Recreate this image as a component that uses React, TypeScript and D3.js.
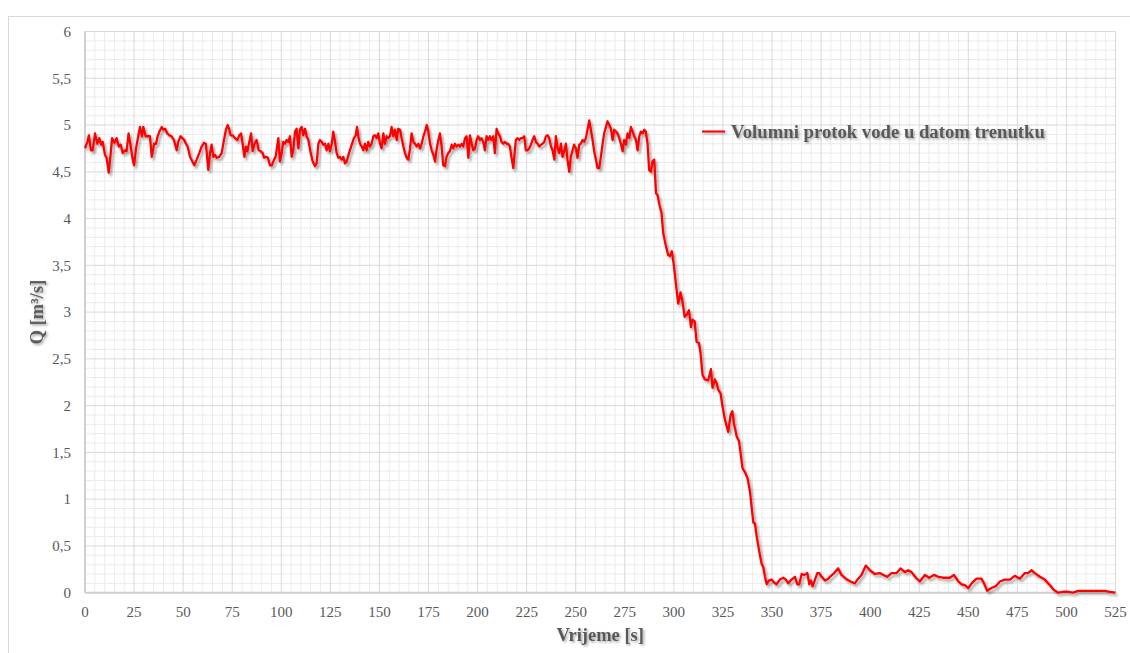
import React from 'react';
import * as d3 from 'd3';

const width = 1130;
const height = 653;
const margin = { top: 31.5, right: 14.5, bottom: 60.3, left: 85 };

const xMax = 525;
const yMax = 6;
const xMajorStep = 25;
const xMinorStep = 5;
const yMajorStep = 0.5;
const yMinorStep = 0.1;

const seriesName = 'Volumni protok vode u datom trenutku';
const xTitle = 'Vrijeme [s]';
const yTitle = 'Q [m³/s]';

// [vrijeme s, protok m3/s]
const flowSamples: [number, number][] = [
  [0, 4.75], [1.2, 4.82], [2, 4.89], [3, 4.73], [3.9, 4.73], [5.1, 4.91], [6.3, 4.8], [7.3, 4.86], [8.3, 4.79], [9, 4.82],
  [10.2, 4.68], [11, 4.65], [12.1, 4.49], [13.1, 4.7], [13.8, 4.86], [15, 4.81], [16.1, 4.86], [17.2, 4.77], [18.2, 4.79], [19.2, 4.7],
  [20.4, 4.73], [21.2, 4.72], [22.2, 4.91], [23.3, 4.77], [24.3, 4.63], [25, 4.57], [26, 4.75], [27.2, 4.89], [28, 4.98], [29, 4.88],
  [29.7, 4.98], [30.9, 4.88], [31.9, 4.88], [33.1, 4.88], [34, 4.66], [35.2, 4.8], [36.2, 4.8], [37, 4.88], [37.9, 4.93], [39.1, 4.98],
  [39.9, 4.95], [40.9, 4.96], [41.9, 4.91], [43, 4.89], [44.1, 4.88], [45.3, 4.84], [46.7, 4.73], [47.5, 4.82], [48.7, 4.88], [49.6, 4.86],
  [50.6, 4.84], [51.4, 4.8], [52.3, 4.77], [53.5, 4.66], [54.7, 4.61], [55.7, 4.57], [56.9, 4.63], [58.2, 4.7], [59.4, 4.77], [60.6, 4.81],
  [61.6, 4.8], [62.8, 4.52], [63.7, 4.7], [64.5, 4.79], [65.4, 4.66], [66.2, 4.68], [67.1, 4.65], [68.4, 4.66], [69.6, 4.7], [70.8, 4.84],
  [71.8, 4.95], [72.7, 5.0], [73.5, 4.95], [74.2, 4.89], [75.2, 4.89], [76.4, 4.86], [77.6, 4.84], [78.6, 4.89], [79.5, 4.91], [80.3, 4.8],
  [81.2, 4.66], [82, 4.77], [82.7, 4.72], [83.7, 4.82], [84.6, 4.91], [85.4, 4.72], [86.4, 4.8], [87.4, 4.84], [88.5, 4.73], [89.5, 4.72],
  [90.5, 4.7], [91.3, 4.65], [92.2, 4.66], [93.2, 4.65], [94.2, 4.57], [95.2, 4.57], [96.3, 4.63], [97.1, 4.66], [98.5, 4.86], [99.3, 4.61],
  [100.2, 4.7], [101, 4.82], [101.9, 4.8], [102.7, 4.84], [103.6, 4.82], [104.4, 4.88], [105.3, 4.66], [106.1, 4.73], [107, 4.93], [107.8, 4.96],
  [108.7, 4.75], [109.5, 4.95], [110.4, 4.98], [111.2, 4.89], [112.1, 4.96], [112.9, 4.88], [113.8, 4.84], [115, 4.7], [116, 4.61], [117.2, 4.56],
  [118, 4.59], [118.9, 4.8], [119.7, 4.84], [120.6, 4.82], [121.4, 4.79], [122.3, 4.8], [123.1, 4.73], [124, 4.8], [124.8, 4.72], [125.7, 4.8],
  [126.5, 4.93], [127.4, 4.82], [128.2, 4.7], [129.1, 4.65], [129.9, 4.66], [130.8, 4.63], [131.6, 4.66], [132.5, 4.59], [133.3, 4.61], [134.5, 4.7],
  [135.9, 4.79], [137, 4.86], [137.9, 4.89], [138.6, 4.98], [139.2, 4.88], [140.1, 4.8], [141, 4.77], [141.8, 4.73], [142.6, 4.8], [143.5, 4.73],
  [144.3, 4.82], [145.2, 4.77], [146, 4.8], [146.9, 4.88], [147.7, 4.89], [148.6, 4.86], [149.4, 4.91], [150.3, 4.8], [151.1, 4.75], [152, 4.91],
  [152.8, 4.8], [153.7, 4.88], [154.5, 4.86], [155.4, 4.88], [156.2, 4.98], [157.1, 4.88], [157.9, 4.95], [158.8, 4.84], [159.6, 4.96], [160.5, 4.95],
  [161.3, 4.86], [162.2, 4.77], [163, 4.7], [163.9, 4.65], [164.7, 4.63], [165.6, 4.75], [166.4, 4.91], [167.3, 4.82], [168.1, 4.8], [169, 4.77],
  [169.8, 4.8], [170.7, 4.75], [171.5, 4.8], [172.4, 4.88], [173.2, 4.93], [174.1, 5.0], [174.9, 4.93], [175.8, 4.8], [176.6, 4.73], [177.5, 4.68],
  [178.3, 4.61], [179.2, 4.75], [180, 4.84], [180.8, 4.91], [181.7, 4.77], [182.5, 4.57], [183.4, 4.56], [184.2, 4.66], [185.1, 4.7], [185.9, 4.72],
  [186.8, 4.79], [187.6, 4.75], [188.5, 4.8], [189.3, 4.77], [190.2, 4.79], [191, 4.77], [191.9, 4.8], [192.7, 4.77], [193.6, 4.86], [194.4, 4.88],
  [195.3, 4.65], [196.1, 4.89], [197, 4.8], [197.8, 4.73], [198.7, 4.75], [199.5, 4.84], [200.3, 4.88], [201.2, 4.84], [202, 4.86], [202.9, 4.82],
  [203.7, 4.73], [204.6, 4.88], [205.4, 4.84], [206.3, 4.88], [207.1, 4.84], [208, 4.88], [208.8, 4.7], [209.7, 4.96], [210.5, 4.91], [211.4, 4.88],
  [212.2, 4.82], [213.1, 4.8], [213.9, 4.82], [214.8, 4.8], [215.6, 4.8], [216.5, 4.77], [217.3, 4.65], [218.2, 4.54], [218.7, 4.66], [219.5, 4.84],
  [220.4, 4.86], [221.2, 4.84], [222.1, 4.86], [222.9, 4.86], [223.8, 4.88], [224.6, 4.73], [225.5, 4.73], [226.3, 4.75], [227.2, 4.79], [228, 4.84],
  [228.9, 4.88], [229.7, 4.82], [230.6, 4.8], [231.4, 4.77], [232.3, 4.79], [233.1, 4.8], [234, 4.82], [234.8, 4.88], [235.7, 4.89], [236.5, 4.86],
  [237.4, 4.77], [238.2, 4.73], [239.1, 4.63], [239.9, 4.88], [240.8, 4.75], [241.6, 4.7], [242.5, 4.8], [243.3, 4.66], [244.1, 4.72], [245, 4.8],
  [245.8, 4.63], [246.7, 4.5], [247.5, 4.66], [248.4, 4.73], [249.2, 4.79], [250.1, 4.75], [250.9, 4.65], [251.8, 4.79], [252.6, 4.8], [253.5, 4.84],
  [254.3, 4.82], [255.2, 4.86], [256, 4.95], [256.9, 5.05], [257.7, 4.95], [258.6, 4.84], [259.4, 4.72], [260.3, 4.63], [261.1, 4.54], [262, 4.54],
  [262.8, 4.66], [263.7, 4.8], [264.5, 4.91], [265.4, 4.98], [266.2, 5.04], [267.1, 5.0], [267.9, 4.96], [268.8, 4.84], [269.6, 4.95], [270.5, 4.93],
  [271.3, 4.91], [272.2, 4.86], [273, 4.8], [273.9, 4.72], [274.7, 4.84], [275.6, 4.79], [276.4, 4.91], [277.3, 4.86], [278.1, 4.98], [279, 4.93],
  [279.8, 4.88], [280.7, 4.84], [281.5, 4.73], [282.4, 4.88], [283.2, 4.93], [284.1, 4.91], [284.9, 4.95], [285.7, 4.93], [286.6, 4.8], [287.4, 4.52],
  [288.3, 4.5], [289.1, 4.61], [290, 4.63], [290.9, 4.27], [291.7, 4.25], [292.6, 4.15], [293.7, 4.06], [294.6, 3.84], [296, 3.7], [297.1, 3.61],
  [298, 3.6], [299, 3.65], [300, 3.5], [301, 3.31], [302.2, 3.09], [303.4, 3.21], [304.4, 3.11], [305.5, 2.95], [306.5, 2.97], [307.7, 3.02],
  [308.7, 2.84], [309.5, 2.92], [310.6, 2.9], [311.6, 2.68], [312.8, 2.67], [313.6, 2.56], [314.6, 2.33], [315.8, 2.28], [317.5, 2.27], [318.9, 2.39],
  [319.7, 2.19], [320.9, 2.28], [321.8, 2.24], [322.6, 2.17], [323.8, 2.13], [324.8, 1.99], [326, 1.85], [327.7, 1.72], [328.9, 1.9], [329.8, 1.94],
  [330.6, 1.81], [332, 1.67], [333.2, 1.62], [334, 1.49], [335, 1.33], [336.2, 1.29], [337.6, 1.22], [338.8, 1.08], [339.6, 0.92], [340.5, 0.75],
  [341.3, 0.74], [342.2, 0.6], [343.5, 0.44], [344.7, 0.31], [345.6, 0.27], [346.4, 0.17], [347.3, 0.09], [348.4, 0.13], [349.8, 0.14], [351, 0.11],
  [352.3, 0.09], [354, 0.14], [355.7, 0.16], [357.1, 0.14], [358.3, 0.1], [360, 0.14], [361.7, 0.17], [362.9, 0.09], [363.9, 0.09], [365.1, 0.2],
  [366.3, 0.19], [367.3, 0.2], [368, 0.21], [369, 0.09], [369.8, 0.13], [370.7, 0.07], [371.9, 0.14], [373.1, 0.21], [374.1, 0.21], [375.3, 0.17],
  [377, 0.13], [378.7, 0.15], [379.5, 0.17], [381.2, 0.2], [383.7, 0.26], [385.4, 0.19], [387.6, 0.15], [390, 0.12], [392.2, 0.1], [393.9, 0.15],
  [395.6, 0.19], [397.8, 0.29], [399.9, 0.24], [402.4, 0.2], [405, 0.21], [406.7, 0.19], [408.7, 0.17], [410.9, 0.21], [413.5, 0.21], [415.5, 0.26],
  [417.7, 0.22], [419.4, 0.24], [421.1, 0.22], [423.3, 0.16], [425.3, 0.12], [427.9, 0.19], [430.1, 0.16], [432.5, 0.19], [434.7, 0.17], [437.2, 0.16],
  [440.6, 0.16], [442.7, 0.19], [444.9, 0.12], [446.6, 0.09], [448.3, 0.08], [450, 0.05], [451.7, 0.1], [454.2, 0.15], [456.7, 0.15], [458, 0.1],
  [459.6, 0.02], [461.8, 0.05], [464, 0.07], [466.1, 0.12], [468.6, 0.14], [471.2, 0.14], [473.7, 0.18], [476.3, 0.15], [478.8, 0.21], [480.5, 0.21],
  [482.2, 0.24], [483.9, 0.21], [486.5, 0.17], [489, 0.14], [491.6, 0.08], [493.6, 0.03], [495.8, 0.0], [498.3, 0.01], [500.9, 0.01], [503.4, 0.0],
  [506, 0.02], [510.2, 0.02], [515.3, 0.02], [519.6, 0.02], [522.1, 0.01], [525, 0.0],
];

const fmt = (v: number) => String(+v.toFixed(1)).replace('.', ',');

export default function App() {
  const x = d3.scaleLinear().domain([0, xMax]).range([margin.left, width - margin.right]);
  const y = d3.scaleLinear().domain([0, yMax]).range([height - margin.bottom, margin.top]);

  const xMajor = d3.range(0, xMax + 0.001, xMajorStep);
  const xMinor = d3.range(0, xMax + 0.001, xMinorStep).filter((v) => v % xMajorStep !== 0);
  const yMajor = d3.range(0, yMax + 0.0001, yMajorStep);
  const yMinor = d3.range(0, yMax + 0.0001, yMinorStep)
    .map((v) => +v.toFixed(1))
    .filter((v) => Math.abs(v / yMajorStep - Math.round(v / yMajorStep)) > 0.01);

  const line = d3.line<[number, number]>()
    .x((d) => x(d[0]))
    .y((d) => y(d[1]))
    .curve(d3.curveLinear);

  const x0 = x(0), x1 = x(xMax), y0 = y(0), y1 = y(yMax);
  const textColor = '#595959';
  const serif = '"Liberation Serif", "Times New Roman", serif';

  return (
    <svg width={width} height={height}
      style={{ position: 'absolute', left: 0, top: 0, background: '#fff', fontFamily: serif }}>
      <defs>
        <filter id="lineShadow" x="-5%" y="-5%" width="110%" height="120%">
          <feDropShadow dx="2" dy="2.5" stdDeviation="1.3" floodColor="#000" floodOpacity="0.35" />
        </filter>
        <filter id="textShadow" x="-5%" y="-20%" width="110%" height="150%">
          <feDropShadow dx="1.5" dy="1.5" stdDeviation="1" floodColor="#000" floodOpacity="0.35" />
        </filter>
      </defs>

      {/* chart area border */}
      <rect x={8.5} y={16.5} width={1130} height={660} fill="#fff" stroke="#d9d9d9" strokeWidth={1} />

      {/* minor grid */}
      <g stroke="#ebebeb" strokeWidth={1}>
        {xMinor.map((v) => (
          <line key={'xm' + v} x1={x(v)} x2={x(v)} y1={y1} y2={y0} />
        ))}
        {yMinor.map((v) => (
          <line key={'ym' + v} x1={x0} x2={x1} y1={y(v)} y2={y(v)} />
        ))}
      </g>
      {/* major grid */}
      <g stroke="#d9d9d9" strokeWidth={1}>
        {xMajor.map((v) => (
          <line key={'xM' + v} x1={x(v)} x2={x(v)} y1={y1} y2={y0} />
        ))}
        {yMajor.map((v) => (
          <line key={'yM' + v} x1={x0} x2={x1} y1={y(v)} y2={y(v)} />
        ))}
      </g>
      {/* axis lines */}
      <line x1={x0} x2={x0} y1={y1} y2={y0} stroke="#d0d0d0" strokeWidth={2} />
      <line x1={x0} x2={x1} y1={y0} y2={y0} stroke="#d0d0d0" strokeWidth={2} />

      {/* tick labels */}
      <g fill={textColor} fontSize={15}>
        {xMajor.map((v) => (
          <text key={'xl' + v} x={x(v)} y={y0 + 24} textAnchor="middle">{fmt(v)}</text>
        ))}
        {yMajor.map((v) => (
          <text key={'yl' + v} x={x0 - 14} y={y(v)} dy="0.35em" textAnchor="end">{fmt(v)}</text>
        ))}
      </g>

      {/* axis titles */}
      <g fill={textColor} fontWeight="bold" fontSize={18.5} filter="url(#textShadow)">
        <text x={(x0 + x1) / 2} y={641} textAnchor="middle">{xTitle}</text>
        <text transform={`translate(${43},${(y0 + y1) / 2}) rotate(-90)`} textAnchor="middle">{yTitle}</text>
      </g>

      {/* series */}
      <path d={line(flowSamples) ?? ''} fill="none" stroke="#ff0000" strokeWidth={2.3}
        strokeLinejoin="round" filter="url(#lineShadow)" />

      {/* legend */}
      <g filter="url(#textShadow)">
        <line x1={702} x2={725} y1={131.5} y2={131.5} stroke="#ff0000" strokeWidth={2} />
        <text x={731} y={138} fill={textColor} fontWeight="bold" fontSize={18.7}>{seriesName}</text>
      </g>
    </svg>
  );
}
